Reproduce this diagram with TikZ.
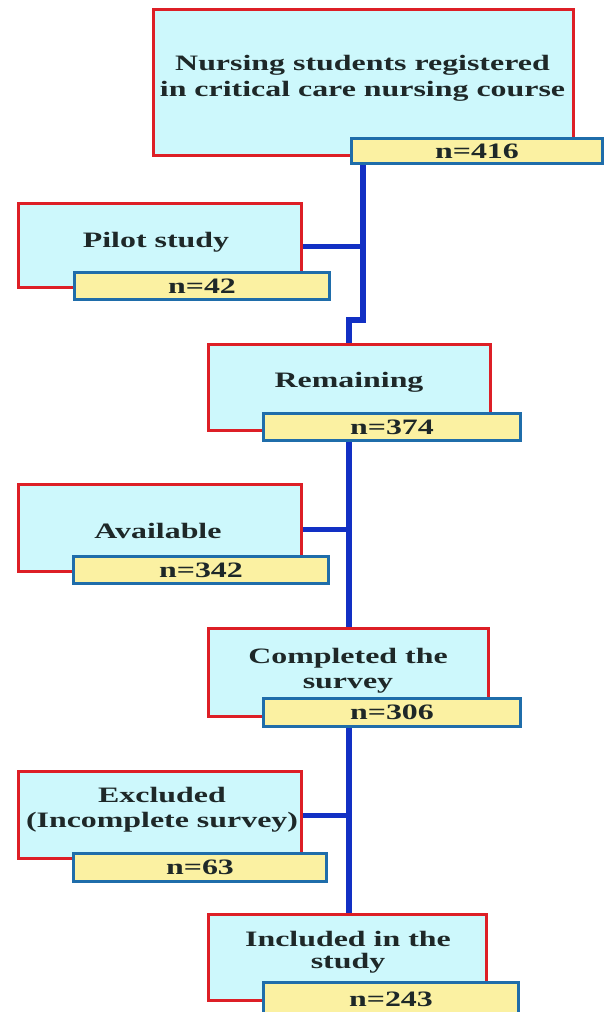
\documentclass[tikz,border=0pt]{standalone}
\usepackage{fontspec}
\newfontfamily\diagfont{Liberation Serif}[FakeStretch=1.45]
\definecolor{redline}{HTML}{DD1F26}
\definecolor{cyanfill}{HTML}{CDF8FC}
\definecolor{yelfill}{HTML}{FBF1A2}
\definecolor{yelline}{HTML}{1F6DAA}
\definecolor{conncol}{HTML}{1230C4}
\definecolor{txtcol}{HTML}{1E2828}
\begin{document}
\begin{tikzpicture}[x=1pt,y=-1pt,
  redbox/.style={draw=redline,line width=3pt,fill=cyanfill,inner sep=0pt},
  yelbox/.style={draw=yelline,line width=3pt,fill=yelfill,inner sep=0pt,
     text=txtcol,font=\diagfont\bfseries\fontsize{22}{25}\selectfont},
  lbl/.style={inner sep=0pt,align=center,text=txtcol,
     font=\diagfont\bfseries\fontsize{22}{25}\selectfont},
  conn/.style={draw=conncol,line width=6pt},
  branch/.style={draw=conncol,line width=5pt}]
\useasboundingbox[fill=white] (0,0) rectangle (605,1012);

% junction coordinates
\coordinate (j1) at (363,246);
\coordinate (k1) at (363,320);
\coordinate (k2) at (349,320);
\coordinate (j2) at (349,529);
\coordinate (j3) at (349,815);

% red boxes
\node[redbox,minimum width=420pt,minimum height=146pt] (r1) at (363.5,82.5) {};
\node[redbox,minimum width=283pt,minimum height=84pt] (r2) at (160,245.5) {};
\node[redbox,minimum width=282pt,minimum height=86pt] (r3) at (349.5,387.5) {};
\node[redbox,minimum width=283pt,minimum height=87pt] (r4) at (160,528) {};
\node[redbox,minimum width=280pt,minimum height=88pt] (r5) at (348.5,672.5) {};
\node[redbox,minimum width=283pt,minimum height=87pt] (r6) at (160,815) {};
\node[redbox,minimum width=278pt,minimum height=86pt] (r7) at (347.5,957.5) {};

% yellow boxes
\node[yelbox,minimum width=251pt,minimum height=25pt] (y1) at (477,151) {n=416};
\node[yelbox,minimum width=255pt,minimum height=27pt] (y2) at (202,286) {n=42};
\node[yelbox,minimum width=257pt,minimum height=27pt] (y3) at (392,427) {n=374};
\node[yelbox,minimum width=255pt,minimum height=27pt] (y4) at (201,570) {n=342};
\node[yelbox,minimum width=257pt,minimum height=28pt] (y5) at (392,712.5) {n=306};
\node[yelbox,minimum width=253pt,minimum height=28pt] (y6) at (200,867.5) {n=63};
\node[yelbox,minimum width=255pt,minimum height=33pt] (y7) at (391,999) {n=243};

% connectors (behind boxes)
\begin{scope}[on background layer/.try]
\end{scope}

% labels
\node[lbl,font=\diagfont\bfseries\fontsize{22}{26}\selectfont] (t1) at (362.5,78.6)
  {Nursing students registered\\in critical care nursing course};
\node[lbl] (t2) at (156,241.9) {Pilot study};
\node[lbl] (t3) at (349,382) {Remaining};
\node[lbl] (t4) at (158,530.5) {Available};
\node[lbl] (t5) at (348,670.4) {Completed the\\survey};
\node[lbl] (t6) at (162,809.4) {Excluded\\(Incomplete survey)};
\node[lbl,font=\diagfont\bfseries\fontsize{22}{22}\selectfont] (t7) at (348,952.6) {Included in the\\study};

% connectors
\draw[conn] (y1.south -| k1) -- (k1) -- (k2) -- (r3.north -| k2);
\draw[branch] (r2.east |- j1) -- (j1);
\draw[conn] (y3.south -| j2) -- (r5.north -| j2);
\draw[branch] (r4.east |- j2) -- (j2);
\draw[conn] (y5.south -| j3) -- (r7.north -| j3);
\draw[branch] (r6.east |- j3) -- (j3);
\end{tikzpicture}
\end{document}
